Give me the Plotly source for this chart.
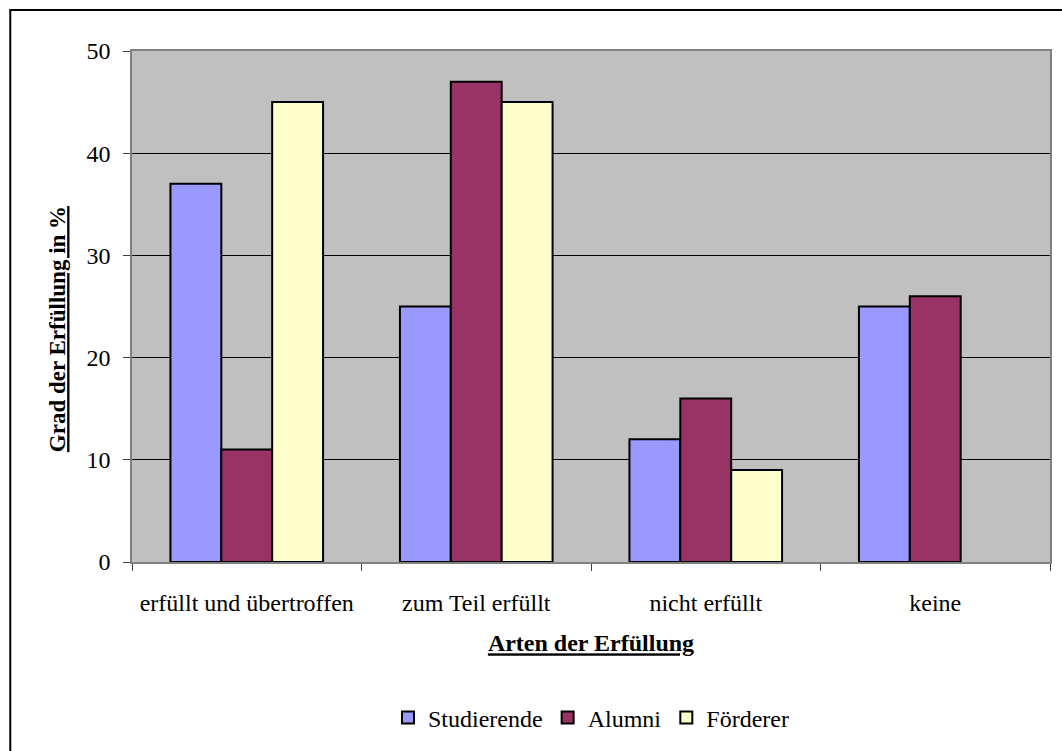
import plotly.graph_objects as go

# Survey results: degree of fulfilment per group (percent)
categories = ["erfüllt und übertroffen", "zum Teil erfüllt", "nicht erfüllt", "keine"]
studierende = [37, 25, 12, 25]
alumni = [11, 47, 16, 26]
foerderer = [45, 45, 9, None]

series = [
    ("Studierende", studierende, "#9999FF"),
    ("Alumni", alumni, "#993366"),
    ("Förderer", foerderer, "#FFFFCC"),
]

W, H = 1062, 751
L, R, T, B = 132, 10, 51, 189
FONT = "Liberation Serif"

fig = go.Figure()
for name, vals, color in series:
    fig.add_trace(go.Bar(
        name=name, x=categories, y=vals,
        marker=dict(color=color, line=dict(color="black", width=2)),
    ))

pw = W - L - R
ph = H - T - B

def px_x(v):
    return (v - L) / pw

def px_y(v):
    return (H - B - v) / ph

fig.update_layout(
    width=W, height=H,
    margin=dict(l=L, r=R, t=T, b=B),
    barmode="group", bargap=0.335, bargroupgap=0,
    paper_bgcolor="white", plot_bgcolor="#C0C0C0",
    font=dict(family=FONT, size=24, color="black"),
    showlegend=True,
    legend=dict(
        orientation="h", x=px_x(592), xanchor="center", y=px_y(718), yanchor="middle",
        font=dict(family=FONT, size=24, color="black"),
        itemwidth=30, tracegroupgap=0, itemclick=False,
    ),
    xaxis=dict(
        type="category", tickson="boundaries", ticks="outside", ticklen=7,
        tickcolor="#404040", showgrid=False, showline=True, linecolor="#808080",
        linewidth=1.5, mirror=True, tickfont=dict(family=FONT, size=24),
        ticklabelstandoff=18,
        title=dict(text="Arten der Erfüllung", standoff=20,
                   font=dict(family=FONT, size=24, weight="bold", lineposition="under")),
    ),
    yaxis=dict(
        range=[0, 50], dtick=10, ticks="outside", ticklen=7, tickcolor="#404040",
        showgrid=True, gridcolor="black", gridwidth=1, zeroline=False,
        showline=True, linecolor="#808080", linewidth=1.5, mirror=True,
        tickfont=dict(family=FONT, size=24), ticklabelstandoff=8,
    ),
    annotations=[dict(
        text="Grad der Erfüllung in %", textangle=-90, showarrow=False,
        xref="paper", yref="paper", x=px_x(57), y=px_y(329),
        xanchor="center", yanchor="middle",
        font=dict(family=FONT, size=23, weight="bold", lineposition="under"),
    )],
    shapes=[dict(
        type="rect", xref="paper", yref="paper",
        x0=px_x(10), x1=px_x(1075), y0=px_y(765), y1=px_y(10),
        line=dict(color="black", width=2), fillcolor="rgba(0,0,0,0)", layer="below",
    )],
)

fig.write_html("out.html")
